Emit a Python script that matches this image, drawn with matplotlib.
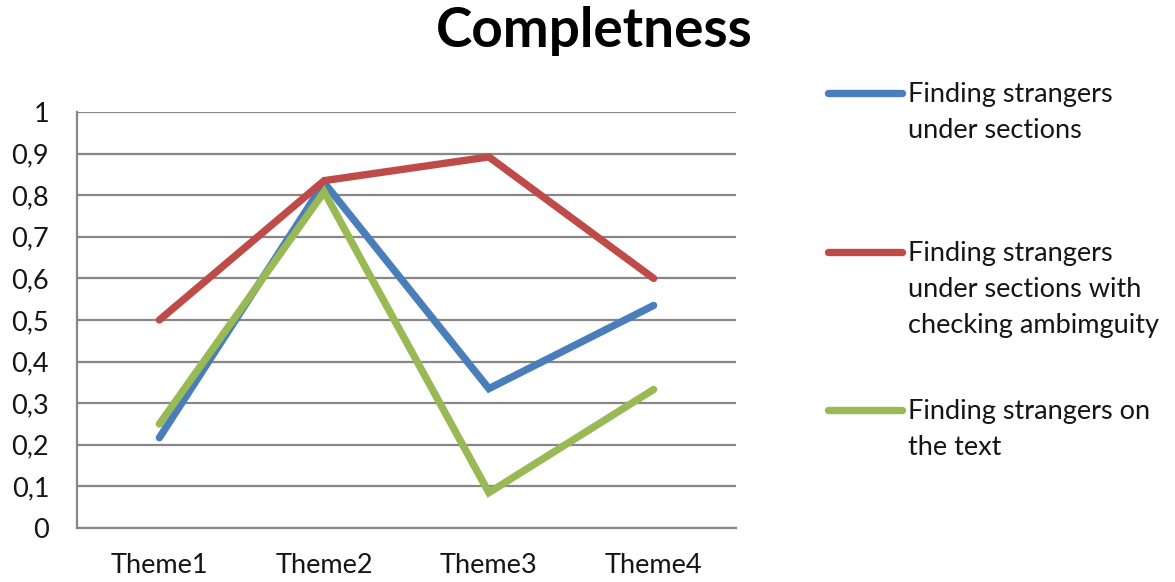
import matplotlib.pyplot as plt
from matplotlib.lines import Line2D

# Completeness scores per theme for the three search strategies
themes = ["Theme1", "Theme2", "Theme3", "Theme4"]
under_sections = [0.217, 0.83, 0.335, 0.535]
with_ambiguity = [0.5, 0.835, 0.892, 0.6]
on_text = [0.25, 0.808, 0.085, 0.333]

series_labels = [
    "Finding strangers\nunder sections",
    "Finding strangers\nunder sections with\nchecking ambimguity",
    "Finding strangers on\nthe text",
]
series_colors = ["#4A7EBB", "#BE4B48", "#98B954"]

y_ticks = [0, 0.1, 0.2, 0.3, 0.4, 0.5, 0.6, 0.7, 0.8, 0.9, 1]
y_tick_labels = ["0", "0,1", "0,2", "0,3", "0,4", "0,5", "0,6", "0,7", "0,8", "0,9", "1"]

plt.rcParams["font.family"] = ["Lato", "DejaVu Sans"]
text_color = "#151515"
grid_color = "#878787"
W, H = 1175, 582

fig = plt.figure(figsize=(W / 100, H / 100), dpi=100)
ax = fig.add_axes([77 / W, 1 - 528 / H, (736 - 77) / W, (528 - 112) / H])

x = list(range(len(themes)))
lines = []
for values, color, label in zip([under_sections, with_ambiguity, on_text], series_colors, series_labels):
    (ln,) = ax.plot(x, values, color=color, lw=5.3, solid_capstyle="round",
                    solid_joinstyle="miter", label=label, zorder=3)
    lines.append(ln)

ax.set_xlim(-0.5, len(themes) - 0.5)
ax.set_ylim(0, 1)
ax.set_yticks(y_ticks)
ax.set_yticklabels(y_tick_labels)
ax.set_xticks(x)
ax.set_xticklabels(themes)
ax.tick_params(axis="both", length=0, labelsize=19.5, colors=text_color)
ax.tick_params(axis="y", pad=20)
ax.tick_params(axis="x", pad=18)

ax.yaxis.grid(True, color=grid_color, lw=1.6)
ax.set_axisbelow(True)
for side in ["top", "right"]:
    ax.spines[side].set_visible(False)
for side in ["left", "bottom"]:
    ax.spines[side].set_color(grid_color)
    ax.spines[side].set_linewidth(1.6)

fig.text(594 / W, 1 - 31 / H, "Completness", ha="center", va="center",
         fontsize=39.5, fontweight="bold", color="black")

# Legend entries: swatch aligned to the first line of each label
legend_rows = [93, 252, 410]
line_step = 36
for ln, row in zip(lines, legend_rows):
    yf = 1 - row / H
    fig.add_artist(Line2D([828 / W, 902 / W], [yf, yf], transform=fig.transFigure,
                          color=ln.get_color(), lw=5.3, solid_capstyle="round"))
    for i, part in enumerate(ln.get_label().split("\n")):
        fig.text(908 / W, 1 - (row + 9 + i * line_step) / H, part, ha="left",
                 va="baseline", fontsize=19.5, color=text_color)

fig.savefig("out.png", dpi=100, facecolor="white")
